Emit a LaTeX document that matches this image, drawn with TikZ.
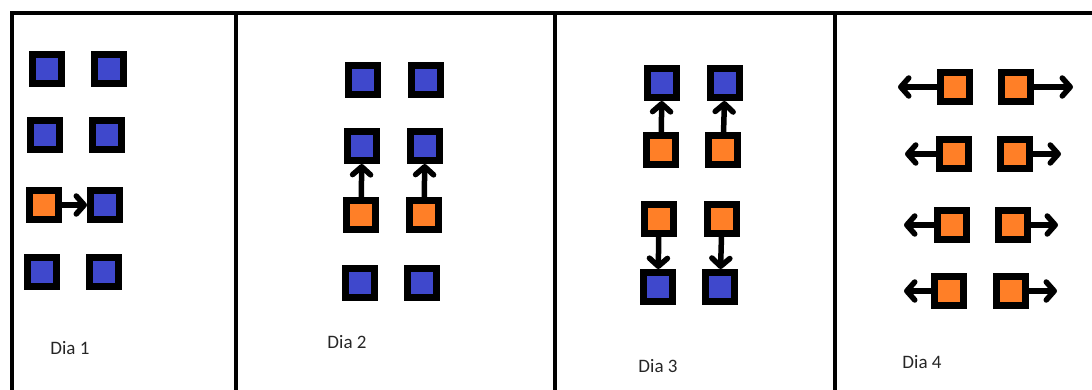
\documentclass[tikz,border=0pt]{standalone}
\usepackage{fontspec}
\setmainfont{Carlito}
\usetikzlibrary{positioning,arrows.meta}

\definecolor{paintblue}{RGB}{63,72,204}
\definecolor{paintorange}{RGB}{255,127,39}

\begin{document}
\begin{tikzpicture}[
    x=1pt, y=-1pt,
    sq/.style={draw=black, line width=7pt, minimum size=29pt, inner sep=0pt},
    blu/.style={sq, fill=paintblue},
    org/.style={sq, fill=paintorange},
    mv/.style={-{Straight Barb[length=8pt, width=18pt, round]}, line width=5.5pt, line cap=round, line join=round},
    frame/.style={line width=4.5pt},
    lbl/.style={font=\fontsize{19}{22}\selectfont, text=black!85},
  ]
  \useasboundingbox (0,0) rectangle (1092,390);

  % frame
  \draw[frame] (12,392) -- (12,13) -- (1094,13);
  \draw[frame] (236,13) -- (236,392);
  \draw[frame] (555,13) -- (555,392);
  \draw[frame] (835,13) -- (835,392);

  % Dia 1
  \node[blu] (p1a) at (47,69) {};
  \node[blu] (p1b) at (109,69) {};
  \node[blu] (p1c) at (45,135) {};
  \node[blu] (p1d) at (107,135) {};
  \node[org] (p1e) at (44,205) {};
  \node[blu] (p1f) at (105,205) {};
  \node[blu] (p1g) at (42,272) {};
  \node[blu] (p1h) at (104,272) {};
  \draw[mv] (p1e) -- (p1f);
  \node[lbl] (dia1) at (70,348) {Dia 1};

  % Dia 2
  \node[blu] (p2a) at (363,80) {};
  \node[blu] (p2b) at (426,80) {};
  \node[blu] (p2c) at (362,146) {};
  \node[blu] (p2d) at (425,146) {};
  \node[org] (p2e) at (361,215) {};
  \node[org] (p2f) at (424,215) {};
  \node[blu] (p2g) at (360,283) {};
  \node[blu] (p2h) at (422,283) {};
  \draw[mv] (p2e) -- (p2c);
  \draw[mv] (p2f) -- (p2d);
  \node[lbl] (dia2) at (347,342) {Dia 2};

  % Dia 3
  \node[blu] (p3a) at (662,83) {};
  \node[blu] (p3b) at (725,83) {};
  \node[org] (p3c) at (661,150) {};
  \node[org] (p3d) at (723,150) {};
  \node[org] (p3e) at (659,219) {};
  \node[org] (p3f) at (722,219) {};
  \node[blu] (p3g) at (658,287) {};
  \node[blu] (p3h) at (720,287) {};
  \draw[mv] (p3c) -- (p3a);
  \draw[mv] (p3d) -- (p3b);
  \draw[mv] (p3e) -- (p3g);
  \draw[mv] (p3f) -- (p3h);
  \node[lbl] (dia3) at (658,366) {Dia 3};

  % Dia 4
  \node[org] (p4a) at (955,87) {};
  \node[org] (p4b) at (1016,87) {};
  \node[org] (p4c) at (954,154) {};
  \node[org] (p4d) at (1015,154) {};
  \node[org] (p4e) at (952,225) {};
  \node[org] (p4f) at (1013,225) {};
  \node[org] (p4g) at (949,291) {};
  \node[org] (p4h) at (1011,291) {};
  \coordinate (l4a) at (898,87);
  \coordinate (r4b) at (1073,87);
  \coordinate (l4c) at (905,154);
  \coordinate (r4d) at (1061,154);
  \coordinate (l4e) at (904,225);
  \coordinate (r4f) at (1058,225);
  \coordinate (l4g) at (904,291);
  \coordinate (r4h) at (1057,291);
  \draw[mv] (p4a) -- (l4a);
  \draw[mv] (p4b) -- (r4b);
  \draw[mv] (p4c) -- (l4c);
  \draw[mv] (p4d) -- (r4d);
  \draw[mv] (p4e) -- (l4e);
  \draw[mv] (p4f) -- (r4f);
  \draw[mv] (p4g) -- (l4g);
  \draw[mv] (p4h) -- (r4h);
  \node[lbl] (dia4) at (922,362) {Dia 4};
\end{tikzpicture}
\end{document}
